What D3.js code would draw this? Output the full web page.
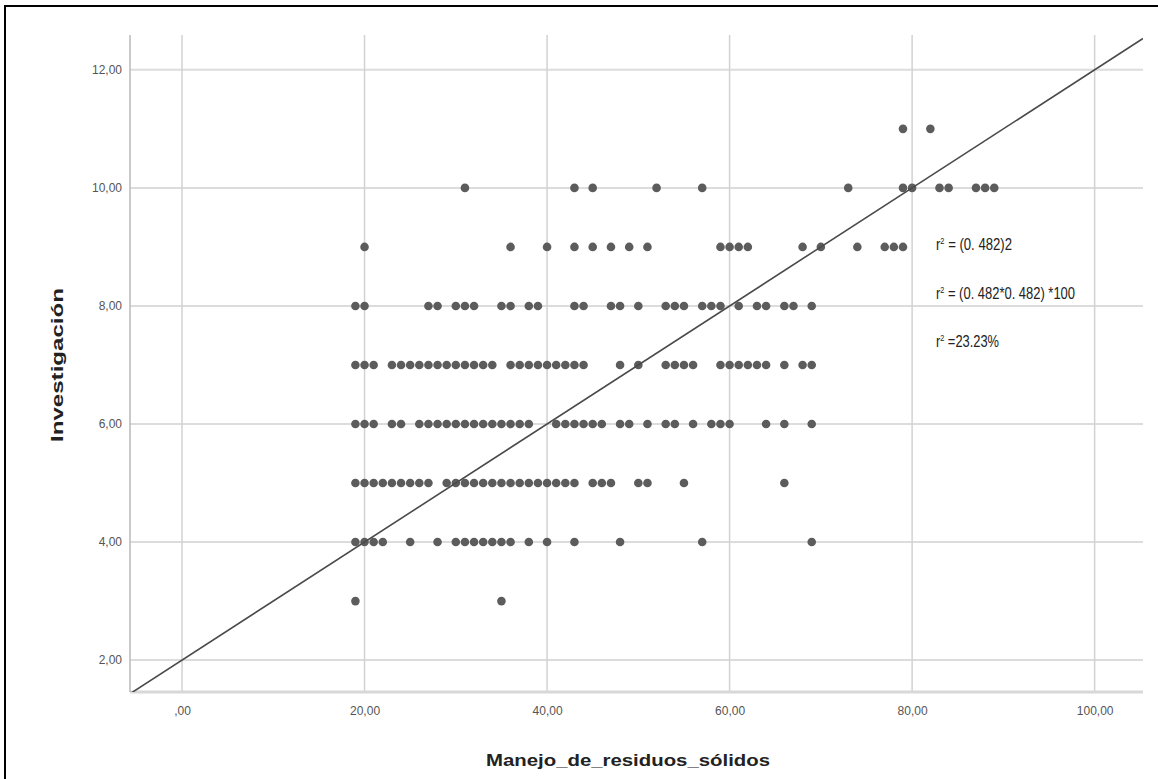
<!DOCTYPE html>
<html>
<head>
<meta charset="utf-8">
<script src="https://cdn.jsdelivr.net/npm/d3@7"></script>
<style>
  html, body { margin: 0; padding: 0; background: #fff; }
  svg { display: block; }
</style>
</head>
<body>
<svg id="chart" width="1158" height="779"></svg>
<script>
// ---- data (x values of Manejo_de_residuos_sólidos, grouped by Investigación level) ----
const xTicks = [0, 20, 40, 60, 80, 100];
const xTickLabels = [",00", "20,00", "40,00", "60,00", "80,00", "100,00"];
const yTicks = [2, 4, 6, 8, 10, 12];
const yTickLabels = ["2,00", "4,00", "6,00", "8,00", "10,00", "12,00"];

const xAtY3 = [19, 35];
const xAtY4 = [19, 20, 21, 22, 25, 28, 30, 31, 32, 33, 34, 35, 36, 38, 40, 43, 48, 57, 69];
const xAtY5 = [19, 20, 21, 22, 23, 24, 25, 26, 27, 29, 30, 31, 32, 33, 34, 35, 36, 37, 38, 39, 40, 41, 42, 43, 45, 46, 47, 50, 51, 55, 66];
const xAtY6 = [19, 20, 21, 23, 24, 26, 27, 28, 29, 30, 31, 32, 33, 34, 35, 36, 37, 38, 41, 42, 43, 44, 45, 46, 48, 49, 51, 53, 54, 56, 58, 59, 60, 64, 66, 69];
const xAtY7 = [19, 20, 21, 23, 24, 25, 26, 27, 28, 29, 30, 31, 32, 33, 34, 36, 37, 38, 39, 40, 41, 42, 43, 44, 48, 50, 53, 54, 55, 56, 59, 60, 61, 62, 63, 64, 66, 68, 69];
const xAtY8 = [19, 20, 27, 28, 30, 31, 32, 35, 36, 38, 39, 43, 44, 47, 48, 50, 53, 54, 55, 57, 58, 59, 61, 63, 64, 66, 67, 69];
const xAtY9 = [20, 36, 40, 43, 45, 47, 49, 51, 59, 60, 61, 62, 68, 70, 74, 77, 78, 79];
const xAtY10 = [31, 43, 45, 52, 57, 73, 79, 80, 83, 84, 87, 88, 89];
const xAtY11 = [79, 82];

const yLevels = [3, 4, 5, 6, 7, 8, 9, 10, 11];
const xRows = [xAtY3, xAtY4, xAtY5, xAtY6, xAtY7, xAtY8, xAtY9, xAtY10, xAtY11];

// reference line: y = a + b*x
const lineIntercept = 2;
const lineSlope = 0.1;

const annotations = ["(0. 482)2", "(0. 482*0. 482) *100", "23.23%"];

const xTitle = "Manejo_de_residuos_sólidos";
const yTitle = "Investigación";

// ---- drawing ----
(function () {
const points = [];
yLevels.forEach((yv, i) => xRows[i].forEach(xv => points.push({x: xv, y: yv})));

const svg = d3.select("#chart");
const pL = 130, pR = 1143, pT = 35, pB = 692;

const x = d3.scaleLinear().domain([-5.7, 105.3]).range([pL, pR]);
const y = d3.scaleLinear().domain([1.46, 12.59]).range([pB, pT]);

// frame
svg.append("rect").attr("x", 5).attr("y", 6).attr("width", 1200).attr("height", 900)
  .attr("fill", "none").attr("stroke", "#000").attr("stroke-width", 2);

// horizontal gridlines
svg.append("g").selectAll("line").data(yTicks).join("line")
  .attr("x1", pL).attr("x2", pR)
  .attr("y1", d => y(d)).attr("y2", d => y(d))
  .attr("stroke", "#dcdcdc").attr("stroke-width", 2);

// vertical gridlines
svg.append("g").selectAll("line").data(xTicks).join("line")
  .attr("x1", d => x(d)).attr("x2", d => x(d))
  .attr("y1", pT).attr("y2", pB)
  .attr("stroke", "#d2d2d2").attr("stroke-width", 1.5);

// axes lines
svg.append("line").attr("x1", pL).attr("x2", pR).attr("y1", pB).attr("y2", pB)
  .attr("stroke", "#d8d8d8").attr("stroke-width", 3);
svg.append("line").attr("x1", pL).attr("x2", pL).attr("y1", pT).attr("y2", pB)
  .attr("stroke", "#b8b8b8").attr("stroke-width", 1.5);

// axes using d3 axis (labels only)
const xAxis = d3.axisBottom(x).tickValues(xTicks).tickFormat((d, i) => xTickLabels[i]).tickSize(0).tickPadding(14);
const gx = svg.append("g").attr("transform", `translate(0,${pB})`).call(xAxis);
gx.select(".domain").remove();
gx.selectAll("text").attr("font-family", "'Liberation Sans Narrow', 'Liberation Sans', Arial, sans-serif")
  .attr("font-size", 12).attr("fill", "#555");

const yAxis = d3.axisLeft(y).tickValues(yTicks).tickFormat((d, i) => yTickLabels[i]).tickSize(0).tickPadding(8);
const gy = svg.append("g").attr("transform", `translate(${pL},0)`).call(yAxis);
gy.select(".domain").remove();
gy.selectAll("text").attr("font-family", "'Liberation Sans Narrow', 'Liberation Sans', Arial, sans-serif")
  .attr("font-size", 12).attr("fill", "#555");

// clip
svg.append("clipPath").attr("id", "plotclip").append("rect")
  .attr("x", pL).attr("y", pT).attr("width", pR - pL).attr("height", pB - pT);

// points
svg.append("g").selectAll("circle").data(points).join("circle")
  .attr("cx", d => x(d.x)).attr("cy", d => y(d.y)).attr("r", 4.3)
  .attr("fill", "#5c5c5c");

// reference line
const xd = x.domain();
svg.append("line").attr("clip-path", "url(#plotclip)")
  .attr("x1", x(xd[0])).attr("y1", y(lineIntercept + lineSlope * xd[0]))
  .attr("x2", x(xd[1])).attr("y2", y(lineIntercept + lineSlope * xd[1]))
  .attr("stroke", "#4a4a4a").attr("stroke-width", 1.6);

// annotations
const annY = [250, 299, 347];
const annW = [76, 139, 63];
annotations.forEach((t, i) => {
  const txt = svg.append("text").attr("x", 936).attr("y", annY[i])
    .attr("font-family", "'Liberation Sans Narrow', 'Liberation Sans', Arial, sans-serif")
    .attr("font-size", 16).attr("fill", "#222")
    .attr("textLength", annW[i]).attr("lengthAdjust", "spacingAndGlyphs");
  txt.append("tspan").text("r");
  txt.append("tspan").attr("dy", -6).attr("font-size", 9).text("2");
  txt.append("tspan").attr("dy", 6).text(i === 2 ? " =" + t : " = " + t);
});

// axis titles
svg.append("text").attr("x", 628).attr("y", 766).attr("text-anchor", "middle")
  .attr("font-family", "'Liberation Sans', Arial, sans-serif").attr("font-weight", "bold")
  .attr("font-size", 17).attr("fill", "#222")
  .attr("textLength", 284).attr("lengthAdjust", "spacingAndGlyphs")
  .text(xTitle);

svg.append("text").attr("transform", "translate(63,365) rotate(-90)").attr("text-anchor", "middle")
  .attr("font-family", "'Liberation Sans', Arial, sans-serif").attr("font-weight", "bold")
  .attr("font-size", 17).attr("fill", "#222")
  .attr("textLength", 154).attr("lengthAdjust", "spacingAndGlyphs")
  .text(yTitle);
})();
</script>
</body>
</html>
